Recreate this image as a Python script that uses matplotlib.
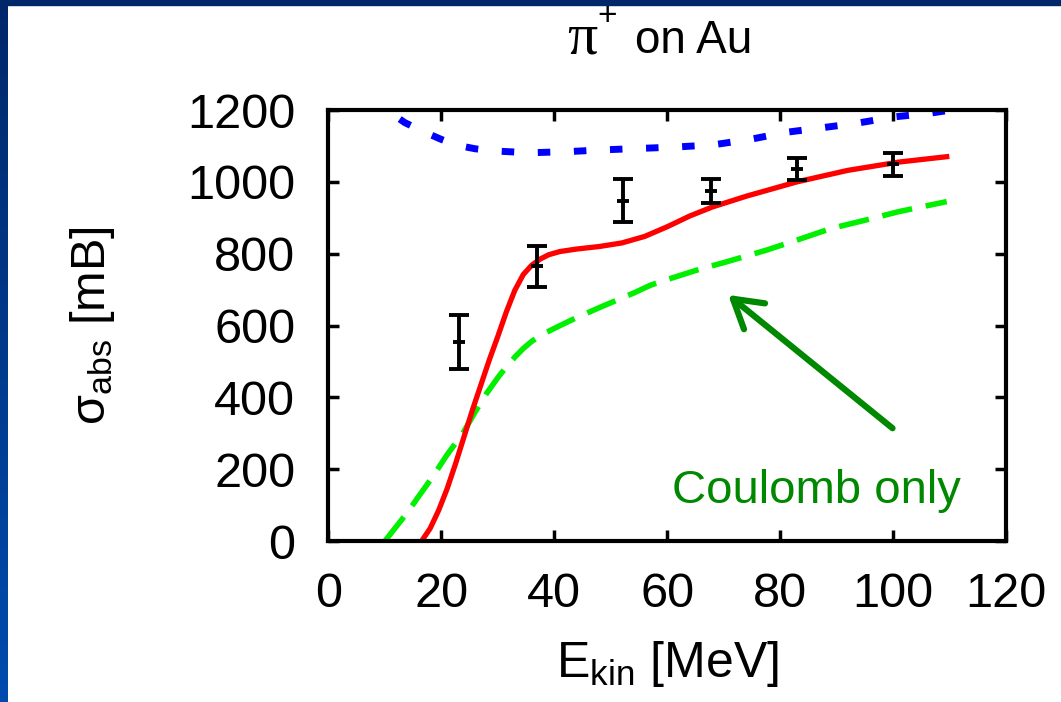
import numpy as np
import matplotlib
matplotlib.use('Agg')
import matplotlib.pyplot as plt
from matplotlib.colors import LinearSegmentedColormap
from matplotlib.patches import Rectangle

plt.rcParams['font.family'] = ['Liberation Sans', 'DejaVu Sans']
plt.rcParams['lines.scale_dashes'] = False

# full calculation (Coulomb + strong)
full_E = [16.5, 18.0, 19.5, 21.0, 22.5, 24.0, 25.5, 27.0, 28.5, 30.0, 31.5, 33.0,
          34.5, 36.0, 37.5, 39.0, 41.0, 44.0, 48.0, 52.0, 56.0, 60.0, 64.0, 68.0,
          74.0, 83.0, 92.0, 101.0, 109.5]
full_sigma = [0, 35, 85, 145, 215, 290, 365, 435, 505, 570, 638, 698,
              742, 768, 785, 797, 806, 813, 820, 830, 848, 875, 905, 930,
              960, 1000, 1032, 1055, 1070]

# Coulomb only
coul_E = [10.0, 12.0, 14.0, 16.0, 18.5, 21.0, 23.8, 26.0, 28.0, 30.0, 31.5, 33.0,
          34.5, 36.0, 38.0, 40.0, 43.0, 48.0, 54.0, 57.0, 60.0, 66.0, 70.0, 77.6,
          83.0, 89.0, 95.0, 101.0, 109.5]
coul_sigma = [0, 40, 80, 125, 180, 240, 300, 360, 411, 455, 485, 512,
              536, 556, 576, 592, 615, 650, 690, 712, 728, 758, 775, 810,
              838, 870, 893, 917, 945]

# blue dashed curve
blue_E = [7.5, 10.3, 13.5, 16.8, 20.0, 22.7, 26.0, 29.2, 35.7, 42.2, 48.6, 55.1,
          61.6, 68.1, 74.6, 81.1, 87.6, 93.5, 100.3, 106.5, 109.5]
blue_sigma = [1235, 1200, 1165, 1140, 1118, 1102, 1092, 1086, 1081, 1084, 1089, 1093,
              1097, 1103, 1118, 1138, 1151, 1163, 1181, 1191, 1198]

# measured points
exp_E = [23.1, 36.9, 52.1, 67.8, 83.0, 99.9]
exp_sigma = [555, 765, 948, 974, 1036, 1049]
exp_err = [75, 57, 59, 33, 31, 32]

fig = plt.figure(figsize=(10.61, 7.02), dpi=100)
fig.patch.set_facecolor('white')

# slide frame: gradient strip on the left, dark band on top
frame_cmap = LinearSegmentedColormap.from_list('frame', ['#00276a', '#004cae'])
bax = fig.add_axes([0, 0, 8 / 1061, 1])
bax.imshow(np.linspace(0, 1, 256).reshape(-1, 1), aspect='auto', cmap=frame_cmap)
bax.axis('off')
fig.patches.append(Rectangle((0, 1 - 5 / 702), 1, 5 / 702, transform=fig.transFigure,
                             color='#00276a', zorder=1))

ax = fig.add_axes([0.30961, 0.22934, 0.63855, 0.61396])

ax.plot(blue_E, blue_sigma, color='#0000ff', lw=5, dashes=(9, 17), dash_capstyle='butt')
ax.plot(coul_E, coul_sigma, color='#00f000', lw=4.0, dashes=(22, 10), dash_capstyle='butt')
ax.plot(full_E, full_sigma, color='#ff0000', lw=3.8)
ax.errorbar(exp_E, exp_sigma, yerr=exp_err, fmt='_', color='k', ms=9, mew=2.8,
            elinewidth=2.8, capsize=7, capthick=2.8, zorder=4)

ax.annotate('', xy=(70.8, 685), xytext=(99.9, 314),
            arrowprops=dict(arrowstyle='->,head_length=1.0,head_width=0.6',
                            color='#008800', lw=4.5, shrinkA=0, shrinkB=0,
                            mutation_scale=20))
ax.text(60.8, 106, 'Coulomb only', color='#008800', fontsize=34, va='baseline')

ax.set_xlim(0, 120)
ax.set_ylim(0, 1200)
ax.set_xticks(range(0, 121, 20))
ax.set_yticks(range(0, 1201, 200))
ax.tick_params(direction='in', length=8, width=2.5, top=True, right=True, labelsize=35)
ax.tick_params(axis='x', pad=22)
ax.tick_params(axis='y', pad=24)
for s in ax.spines.values():
    s.set_linewidth(3)

# title: pi in serif, charge as superscript, rest in sans
fig.text(567 / 1061, 1 - 53 / 702, 'π', family='Liberation Serif', fontsize=43,
         va='baseline', ha='left')
fig.text(607 / 1061, 1 - 25 / 702, '+', fontsize=24, va='baseline', ha='center')
fig.text(635 / 1061, 1 - 53 / 702, 'on Au', fontsize=33, va='baseline', ha='left')

ax.set_xlabel(r'$\mathregular{E_{kin}}$ [MeV]', fontsize=36, labelpad=16)
ax.set_ylabel(r'$\mathregular{σ_{abs}}$ [mB]', fontsize=35, labelpad=50)

fig.savefig('out.png', dpi=100)
